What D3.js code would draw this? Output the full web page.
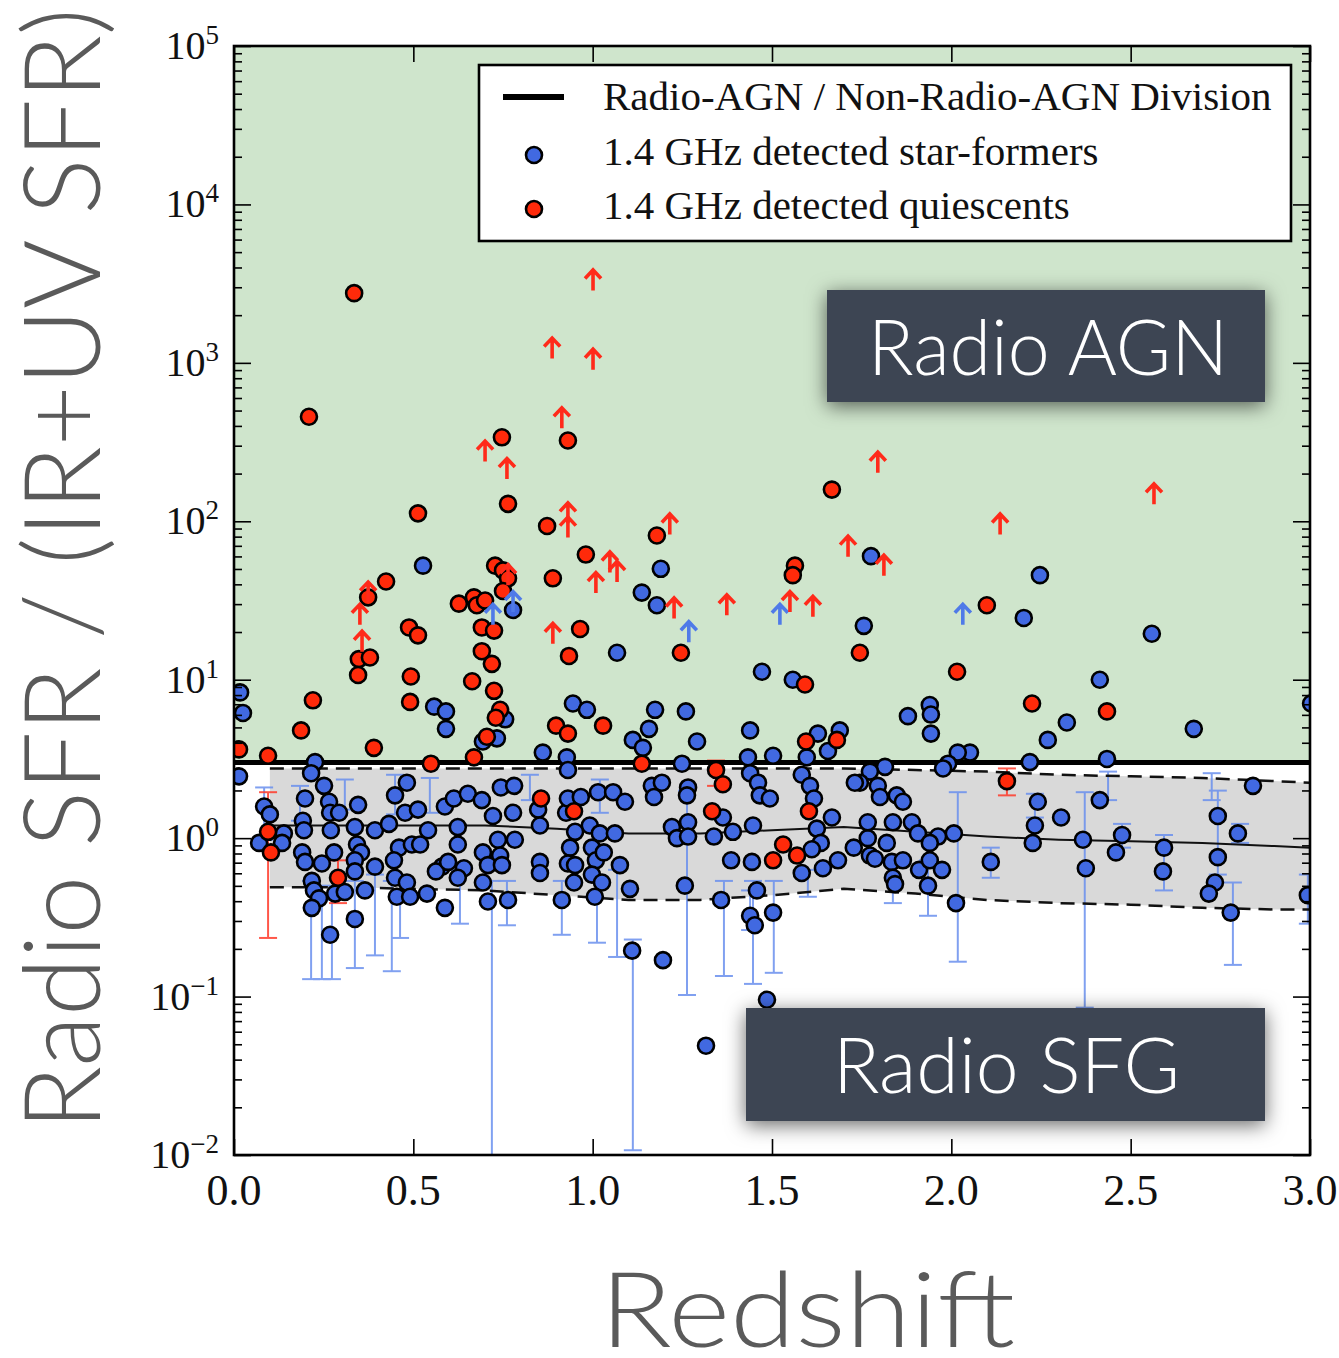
<!DOCTYPE html>
<html><head><meta charset="utf-8">
<script src="https://cdn.jsdelivr.net/npm/d3@7"></script>
<style>html,body{margin:0;padding:0;background:#fff}svg{display:block}</style>
</head><body>
<svg id="chart" width="1339" height="1358"></svg>
<script>
// ---- DATA (z = redshift, values are log10(Radio SFR / (IR+UV SFR))) ----
const starFormers = [
 [0.527,1.72],[0.778,1.44],[1.068,1.17],[1.137,1.55],[1.179,1.47],[1.190,1.70],[1.776,1.78],[2.247,1.66],[1.756,1.34],[2.202,1.39],
 [2.559,1.29],[1.472,1.05],[1.558,1.00],[2.414,1.00],[0.017,0.92],[0.025,0.79],[0.558,0.83],[0.591,0.80],[0.591,0.69],[0.945,0.85],
 [0.984,0.81],[0.756,0.75],[0.733,0.63],[0.694,0.61],[1.174,0.81],[1.260,0.80],[3.003,0.85],[1.879,0.77],[1.940,0.84],[1.943,0.78],
 [1.943,0.66],[2.322,0.73],[2.269,0.62],[2.676,0.69],[1.112,0.62],[1.140,0.57],[1.157,0.69],[1.291,0.61],[1.439,0.68],[1.628,0.66],
 [1.689,0.68],[1.656,0.55],[0.861,0.54],[0.928,0.51],[2.052,0.54],[2.018,0.54],[1.991,0.47],[1.977,0.44],[2.219,0.48],[2.434,0.50],
 [1.815,0.45],[1.773,0.42],[1.745,0.35],[2.841,0.33],[0.931,0.43],[1.249,0.47],[1.433,0.51],[1.503,0.52],[1.597,0.51],[1.583,0.40],
 [1.606,0.33],[1.617,0.25],[1.731,0.35],[0.014,0.39],[0.226,0.48],[0.215,0.41],[0.251,0.33],
 [0.084,0.20],[0.100,0.15],[0.139,0.03],[0.070,-0.03],[0.134,-0.03],[0.198,0.25],[0.265,0.23],[0.268,0.16],[0.293,0.16],[0.192,0.11],
 [0.195,0.05],[0.270,0.05],[0.346,0.21],[0.337,0.07],[0.393,0.05],[0.449,0.27],[0.482,0.35],[0.432,0.09],[0.477,0.16],[0.513,0.18],
 [0.541,0.05],[0.588,0.20],[0.190,-0.09],[0.198,-0.15],[0.245,-0.16],[0.279,-0.09],[0.343,-0.04],[0.354,-0.09],[0.337,-0.14],[0.337,-0.21],
 [0.393,-0.18],[0.460,-0.06],[0.496,-0.04],[0.519,-0.04],[0.446,-0.14],[0.449,-0.25],[0.482,-0.28],[0.580,-0.18],[0.563,-0.21],[0.217,-0.27],
 [0.223,-0.33],[0.237,-0.38],[0.217,-0.44],[0.282,-0.35],[0.309,-0.34],[0.365,-0.33],[0.454,-0.37],[0.491,-0.37],[0.538,-0.35],[0.588,-0.44],
 [0.337,-0.51],[0.268,-0.61],
 [0.613,0.25],[0.652,0.28],[0.691,0.24],[0.744,0.32],[0.781,0.33],[0.848,0.18],[0.853,0.08],[0.722,0.14],[0.778,0.16],[0.624,0.07],
 [0.624,-0.04],[0.926,0.16],[0.931,0.25],[0.967,0.26],[1.015,0.29],[1.057,0.29],[1.090,0.23],[0.992,0.08],[0.951,0.04],[1.020,0.03],
 [1.062,0.03],[0.736,-0.01],[0.783,-0.01],[0.694,-0.09],[0.742,-0.11],[0.597,-0.15],[0.641,-0.19],[0.708,-0.17],[0.747,-0.17],[0.853,-0.15],
 [0.853,-0.22],[0.937,-0.06],[0.998,-0.06],[0.931,-0.16],[0.951,-0.17],[1.009,-0.14],[1.031,-0.09],[1.076,-0.17],[0.624,-0.25],[0.694,-0.28],
 [0.948,-0.28],[0.998,-0.23],[1.026,-0.28],[1.104,-0.32],[0.708,-0.40],[0.764,-0.39],[0.914,-0.39],[1.006,-0.37],[1.110,-0.71],[1.165,0.33],
 [1.171,0.26],
 [1.266,0.32],[1.263,0.27],[1.193,0.35],[1.439,0.41],[1.461,0.35],[1.466,0.27],[1.494,0.25],[1.667,0.13],[1.363,0.13],[1.221,0.07],
 [1.266,0.10],[1.235,0.00],[1.266,0.01],[1.338,0.01],[1.391,0.04],[1.447,0.08],[1.625,0.06],[1.636,-0.03],[1.611,-0.07],[1.386,-0.14],
 [1.444,-0.15],[1.583,-0.22],[1.642,-0.19],[1.684,-0.14],[1.728,-0.06],[1.767,0.00],[1.773,-0.11],[1.257,-0.30],[1.358,-0.39],[1.458,-0.33],
 [1.439,-0.49],[1.452,-0.55],[1.503,-0.47],[1.196,-0.77],
 [1.795,0.33],[1.848,0.27],[1.801,0.26],[1.865,0.23],[2.241,0.23],[2.414,0.24],[1.767,0.10],[1.837,0.10],[1.890,0.10],[2.233,0.08],
 [2.306,0.13],[2.743,0.14],[2.799,0.03],[2.007,0.03],[1.963,0.01],[1.907,0.03],[1.940,-0.03],[1.820,-0.03],[2.227,-0.03],[2.367,-0.01],
 [2.476,0.02],[2.459,-0.09],[2.593,-0.06],[2.590,-0.21],[2.743,-0.12],[2.110,-0.15],[2.375,-0.19],[1.787,-0.13],[1.834,-0.15],[1.865,-0.14],
 [1.910,-0.20],[1.940,-0.14],[1.974,-0.20],[1.837,-0.25],[1.843,-0.29],[1.935,-0.30],[2.735,-0.28],[2.718,-0.35],[2.994,-0.36],[2.013,-0.41],
 [2.779,-0.47],[1.316,-1.31],[1.486,-1.02]
];
const quiescents = [
 [0.335,3.44],[0.209,2.66],[0.747,2.53],[0.931,2.51],[0.513,2.05],[0.764,2.11],[0.873,1.97],[0.981,1.79],[1.179,1.91],[1.667,2.20],
 [0.424,1.62],[0.374,1.52],[0.728,1.72],[0.750,1.69],[0.764,1.64],[0.750,1.56],[0.889,1.64],[0.627,1.48],[0.669,1.52],[0.677,1.47],
 [0.700,1.50],[0.488,1.33],[0.513,1.28],[0.691,1.33],[0.725,1.31],[0.965,1.32],[0.934,1.15],[0.348,1.13],[0.379,1.14],[0.346,1.03],
 [0.691,1.18],[0.719,1.10],[0.493,1.02],[0.664,0.99],[0.725,0.93],[0.220,0.87],[0.491,0.86],[0.742,0.81],[0.730,0.76],[0.705,0.64],
 [0.187,0.68],[0.014,0.56],[0.095,0.52],[0.390,0.57],[0.549,0.47],[0.669,0.51],[0.898,0.71],[0.931,0.66],[1.029,0.71],[1.137,0.47],
 [1.564,1.72],[1.558,1.66],[2.099,1.47],[1.246,1.17],[1.745,1.17],[1.592,0.97],[2.016,1.05],[2.225,0.85],[2.434,0.80],[1.595,0.61],
 [1.681,0.62],[0.095,0.04],[0.103,-0.09],[0.290,-0.25],[0.856,0.25],[0.948,0.17],[1.344,0.43],[1.363,0.34],[1.333,0.17],[1.603,0.17],
 [1.531,-0.04],[1.570,-0.11],[1.503,-0.14],[2.155,0.36]
];
const quiescentLowerLimits = [
 [1.001,3.52],[0.887,3.09],[1.001,3.02],[0.914,2.65],[0.700,2.44],[0.761,2.33],[0.931,2.05],[0.931,1.96],[1.215,1.98],[1.795,2.37],
 [2.565,2.17],[2.136,1.98],[1.712,1.84],[1.812,1.72],[1.048,1.74],[1.068,1.68],[1.009,1.61],[1.227,1.45],[1.374,1.47],[1.550,1.49],
 [1.614,1.46],[0.889,1.29],[0.351,1.41],[0.357,1.24],[0.374,1.55],[0.764,1.66]
];
const starFormerLowerLimits = [[0.778,1.49],[0.722,1.41],[1.268,1.30],[1.522,1.41],[2.032,1.41]];
// error bars: [z, log10 high, log10 low]
const starFormerErrors = [
 [0.084,0.32,-0.01],[0.215,-0.27,-0.89],[0.245,-0.30,-0.89],[0.273,-0.39,-0.89],[0.337,-0.27,-0.82],[0.393,-0.23,-0.74],
 [0.440,-0.27,-0.84],[0.463,-0.27,-0.63],[0.630,-0.20,-0.54],[0.719,-0.27,-2.10],[0.761,-0.27,-0.55],[0.914,-0.27,-0.61],
 [1.012,-0.27,-0.66],[1.068,-0.20,-0.75],[1.112,-0.64,-1.97],[1.263,0.30,-0.99],[1.366,-0.27,-0.87],[1.447,-0.27,-0.92],
 [1.505,-0.27,-0.85],[2.018,0.29,-0.78],[2.372,0.29,-1.07],[2.785,-0.28,-0.80],[2.743,0.30,-0.23],[2.593,0.02,-0.33],
 [2.110,-0.06,-0.25],[2.233,0.28,0.13],[2.476,0.09,-0.06],[1.935,-0.14,-0.49],[1.837,-0.14,-0.41],[2.994,-0.23,-0.54],
 [2.805,0.09,-0.03],[0.449,0.40,0.15],[0.546,0.38,0.16],[0.309,0.37,0.18],[0.184,0.33,0.11],[0.825,0.40,0.24],
 [1.020,0.37,0.16],[2.437,0.42,0.24],[2.726,0.41,0.24],[1.600,-0.20,-0.37],[1.439,-0.33,-0.58]
];
const quiescentErrors = [[0.095,0.29,-0.63],[2.155,0.44,0.27],[0.290,-0.14,-0.41],[1.344,0.49,0.33]];
// non-AGN population: median and scatter (log10) versus redshift
const bandZ      = [0.10,0.30,0.50,0.70,0.90,1.10,1.30,1.50,1.70,1.90,2.10,2.30,2.50,2.70,2.90,3.00];
const bandUpper  = [0.44,0.44,0.44,0.44,0.44,0.44,0.44,0.44,0.44,0.43,0.42,0.40,0.39,0.38,0.36,0.35];
const bandMedian = [0.08,0.08,0.08,0.08,0.06,0.03,0.03,0.05,0.07,0.04,0.01,-0.01,-0.02,-0.03,-0.05,-0.06];
const bandLower  = [-0.31,-0.31,-0.32,-0.33,-0.36,-0.39,-0.39,-0.36,-0.32,-0.35,-0.39,-0.41,-0.42,-0.44,-0.45,-0.45];
const agnDivision = 3.0;
const xTicks = [0.0,0.5,1.0,1.5,2.0,2.5,3.0];
const yExponents = [-2,-1,0,1,2,3,4,5];
const legendLabels = ["Radio-AGN / Non-Radio-AGN Division","1.4 GHz detected star-formers","1.4 GHz detected quiescents"];

// ---- DRAWING ----
const svg = d3.select("#chart");
const P = {l:234, r:1310, t:46, b:1155};
const x = d3.scaleLinear().domain([0,3]).range([P.l,P.r]);
const y = d3.scaleLog().domain([1e-2,1e5]).range([P.b,P.t]);
const Y = v => y(Math.pow(10,v));
const BLUE="#4169e1", RED="#ff2a0a", ERRB="#6a90ee", ERRR="#ff3a2a";
const serif = "'Liberation Serif','Times New Roman',serif";
const sans = "Lato,Roboto,'Open Sans',sans-serif";

const defs = svg.append("defs");
defs.append("clipPath").attr("id","plotclip").append("rect")
  .attr("x",P.l).attr("y",P.t).attr("width",P.r-P.l).attr("height",P.b-P.t);
defs.append("filter").attr("id","shadow").attr("x","-20%").attr("y","-50%").attr("width","140%").attr("height","200%")
  .append("feDropShadow").attr("dx",0).attr("dy",4).attr("stdDeviation",10)
  .attr("flood-color","#000").attr("flood-opacity",0.6);

svg.append("rect").attr("width",1339).attr("height",1358).attr("fill","#fff");

const plot = svg.append("g").attr("clip-path","url(#plotclip)");
// green radio-AGN region
plot.append("rect").attr("x",P.l).attr("y",P.t).attr("width",P.r-P.l)
  .attr("height",y(agnDivision)-P.t).attr("fill","#cfe5cc");
// grey scatter band
const bandData = bandZ.map((z,i)=>({z, u:bandUpper[i], m:bandMedian[i], lo:bandLower[i]}));
plot.append("path").datum(bandData).attr("fill","#d9d9d9")
  .attr("d", d3.area().x(d=>x(d.z)).y0(d=>Y(d.lo)).y1(d=>Y(d.u)));

// error bars
function drawErrors(data,color){
  const g = plot.append("g").attr("stroke",color).attr("stroke-width",2).attr("opacity",0.85).attr("fill","none");
  data.forEach(([z,hi,lo])=>{
    const cx=x(z);
    g.append("line").attr("x1",cx).attr("x2",cx).attr("y1",Y(hi)).attr("y2",Y(lo));
    g.append("line").attr("x1",cx-9).attr("x2",cx+9).attr("y1",Y(hi)).attr("y2",Y(hi));
    g.append("line").attr("x1",cx-9).attr("x2",cx+9).attr("y1",Y(lo)).attr("y2",Y(lo));
  });
}
drawErrors(starFormerErrors,ERRB);
drawErrors(quiescentErrors,ERRR);

// band lines
const line = key => d3.line().x(d=>x(d.z)).y(d=>Y(d[key]));
plot.append("path").datum(bandData).attr("fill","none").attr("stroke","#111").attr("stroke-width",2.5)
  .attr("stroke-dasharray","14,8").attr("d",line("u"));
plot.append("path").datum(bandData).attr("fill","none").attr("stroke","#111").attr("stroke-width",2.5)
  .attr("stroke-dasharray","14,8").attr("d",line("lo"));
plot.append("path").datum(bandData).attr("fill","none").attr("stroke","#111").attr("stroke-width",2)
  .attr("d",line("m"));
// division line
plot.append("line").attr("x1",P.l).attr("x2",P.r).attr("y1",y(agnDivision)).attr("y2",y(agnDivision))
  .attr("stroke","#000").attr("stroke-width",5);

// points
plot.append("g").selectAll("circle").data(starFormers).join("circle")
  .attr("cx",d=>x(d[0])).attr("cy",d=>Y(d[1])).attr("r",8)
  .attr("fill",BLUE).attr("stroke","#000").attr("stroke-width",2.6);
plot.append("g").selectAll("circle").data(quiescents).join("circle")
  .attr("cx",d=>x(d[0])).attr("cy",d=>Y(d[1])).attr("r",8)
  .attr("fill",RED).attr("stroke","#000").attr("stroke-width",2.6);

// lower-limit arrows
const arrow = (cx,cy)=>`M${cx},${cy+10}L${cx},${cy-10}M${cx-8},${cy-2}L${cx},${cy-10.5}L${cx+8},${cy-2}`;
plot.append("g").selectAll("path").data(starFormerLowerLimits).join("path")
  .attr("d",d=>arrow(x(d[0]),Y(d[1]))).attr("fill","none").attr("stroke","#4f7ae8").attr("stroke-width",3.6);
plot.append("g").selectAll("path").data(quiescentLowerLimits).join("path")
  .attr("d",d=>arrow(x(d[0]),Y(d[1]))).attr("fill","none").attr("stroke","#ff2a1a").attr("stroke-width",3.6);

// axes (ticks inward on all sides)
const majors = yExponents.map(e=>Math.pow(10,e));
const minors = [];
yExponents.slice(0,-1).forEach(e=>{for(let m=2;m<=9;m++) minors.push(m*Math.pow(10,e));});
function styleAxis(g){ g.select(".domain").remove(); g.selectAll("line").attr("stroke","#000").attr("stroke-width",1.6); }
svg.append("g").attr("transform",`translate(${P.l},0)`).call(d3.axisLeft(y).tickValues(majors).tickSize(-17).tickFormat("")).call(styleAxis);
svg.append("g").attr("transform",`translate(${P.l},0)`).call(d3.axisLeft(y).tickValues(minors).tickSize(-8).tickFormat("")).call(styleAxis);
svg.append("g").attr("transform",`translate(${P.r},0)`).call(d3.axisRight(y).tickValues(majors).tickSize(-17).tickFormat("")).call(styleAxis);
svg.append("g").attr("transform",`translate(${P.r},0)`).call(d3.axisRight(y).tickValues(minors).tickSize(-8).tickFormat("")).call(styleAxis);
svg.append("g").attr("transform",`translate(0,${P.b})`).call(d3.axisBottom(x).tickValues(xTicks).tickSize(-16).tickFormat("")).call(styleAxis);
svg.append("g").attr("transform",`translate(0,${P.t})`).call(d3.axisTop(x).tickValues(xTicks).tickSize(-16).tickFormat("")).call(styleAxis);
// frame
svg.append("rect").attr("x",P.l).attr("y",P.t).attr("width",P.r-P.l).attr("height",P.b-P.t)
  .attr("fill","none").attr("stroke","#000").attr("stroke-width",2.6);

// tick labels
xTicks.forEach(t=>{
  svg.append("text").attr("x",x(t)).attr("y",P.b+50).attr("text-anchor","middle")
    .attr("font-family",serif).attr("font-size",44).attr("fill","#111").text(t.toFixed(1));
});
yExponents.forEach(e=>{
  const tx = svg.append("text").attr("x",219).attr("y",y(Math.pow(10,e))+13).attr("text-anchor","end")
    .attr("font-family",serif).attr("fill","#111");
  tx.append("tspan").attr("font-size",40).text("10");
  tx.append("tspan").attr("font-size",27).attr("dy",-15).text(e<0?"\u2212"+(-e):String(e));
});

// legend
const lg = svg.append("g");
lg.append("rect").attr("x",479).attr("y",65).attr("width",812).attr("height",176)
  .attr("fill","#fff").attr("stroke","#000").attr("stroke-width",2.6);
lg.append("line").attr("x1",503).attr("x2",564).attr("y1",97).attr("y2",97).attr("stroke","#000").attr("stroke-width",6);
lg.append("circle").attr("cx",534).attr("cy",155).attr("r",8).attr("fill",BLUE).attr("stroke","#000").attr("stroke-width",2.6);
lg.append("circle").attr("cx",534).attr("cy",209).attr("r",8).attr("fill",RED).attr("stroke","#000").attr("stroke-width",2.6);
[110,165,219].forEach((by,i)=>{
  lg.append("text").attr("x",603).attr("y",by).attr("font-family",serif).attr("font-size",41)
    .attr("fill","#111").text(legendLabels[i]);
});

// annotation boxes
function labelBox(x0,y0,w,h,label,tx,ty,tl){
  svg.append("rect").attr("x",x0).attr("y",y0).attr("width",w).attr("height",h)
    .attr("fill","#3d4452").attr("filter","url(#shadow)");
  svg.append("text").attr("x",tx).attr("y",ty).attr("font-family",sans).attr("font-weight",300)
    .attr("font-size",77).attr("fill","#fff").attr("textLength",tl).attr("lengthAdjust","spacingAndGlyphs").text(label);
}
labelBox(827,290,438,112,"Radio AGN",868,375,360);
labelBox(746,1008,519,113,"Radio SFG",833,1093,347);

// axis titles
svg.append("text").attr("transform","translate(100,1130) rotate(-90)").attr("font-family",sans)
  .attr("font-weight",300).attr("font-size",106).attr("fill","#5a5a5a")
  .attr("textLength",1122).attr("lengthAdjust","spacingAndGlyphs").text("Radio SFR / (IR+UV SFR)");
svg.append("text").attr("x",600).attr("y",1347).attr("font-family",sans)
  .attr("font-weight",300).attr("font-size",104).attr("fill","#5a5a5a")
  .attr("textLength",415).attr("lengthAdjust","spacingAndGlyphs").text("Redshift");
</script>
</body></html>
